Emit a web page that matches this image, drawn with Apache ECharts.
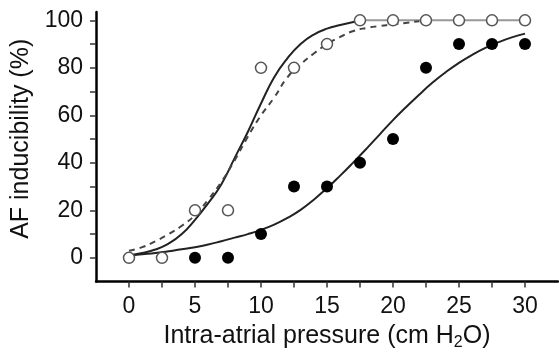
<!DOCTYPE html>
<html>
<head>
<meta charset="utf-8">
<script src="https://cdn.jsdelivr.net/npm/echarts@6/dist/echarts.min.js"></script>
<style>
  html, body { margin: 0; padding: 0; background: #fff; }
  #chart { width: 559px; height: 356px; }
</style>
</head>
<body>
<div id="chart"></div>
<script>
// measured points (open = first group, filled = second group)
const openX = [0, 2.5, 5, 7.5, 10, 12.5, 15, 17.5, 20, 22.5, 25, 27.5, 30];
const openY = [0, 0, 20, 20, 80, 80, 90, 100, 100, 100, 100, 100, 100];
const filledX = [5, 7.5, 10, 12.5, 15, 17.5, 20, 22.5, 25, 27.5, 30];
const filledY = [0, 0, 10, 30, 30, 40, 50, 80, 90, 90, 90];

// fitted curves
const fitOpenX = [0, 1, 2, 3, 4, 5, 6, 7, 8, 9, 10, 11, 12, 13, 14, 15, 16, 17, 17.5];
const fitOpenY = [1, 2, 3.5, 6, 10, 16, 23, 31, 42, 53, 65, 76, 84, 90, 94, 96.5, 98, 99.3, 99.8];
const fitDashX = [0, 1, 2, 3, 4, 5, 6, 7, 8, 9, 10, 11, 12, 13, 14, 15, 16, 17, 18, 19, 20, 22];
const fitDashY = [3, 4.5, 7, 10, 13.5, 18, 24.5, 32, 41, 51, 60, 67.5, 76, 81.5, 86, 90, 93, 95.5, 96.8, 97.6, 98.3, 99.6];
const fitFilledX = [0, 1, 2, 3, 4, 5, 6, 7, 8, 9, 10, 11, 12, 13, 14, 15,
  16, 17, 18, 19, 20, 21, 22, 23, 24, 25, 26, 27, 28, 29, 30];
const fitFilledY = [1, 1.5, 2, 2.8, 3.6, 4.5, 5.6, 7, 8.5, 10, 11.8, 14, 16.8, 20.2, 24.5, 29.3,
  34.6, 40.2, 46, 52, 58, 63.5, 68.8, 73.8, 78.2, 82.1, 85.5, 88.4, 90.8, 92.8, 94.4];

// axis ticks
const xTicks = [0, 2.5, 5, 7.5, 10, 12.5, 15, 17.5, 20, 22.5, 25, 27.5, 30];
const xLabels = [0, 5, 10, 15, 20, 25, 30];
const yTicks = [0, 10, 20, 30, 40, 50, 60, 70, 80, 90, 100];
const yLabels = [0, 20, 40, 60, 80, 100];

const pairs = (xs, ys) => xs.map((x, i) => [x, ys[i]]);
const plateau = pairs(openX, openY).filter(p => p[0] >= 17.5);

const font = 'Liberation Sans, Arial, sans-serif';
const ink = '#111';

const chart = echarts.init(document.getElementById('chart'), null, { renderer: 'canvas' });

chart.setOption({
  animation: false,
  backgroundColor: '#fff',
  grid: { left: 96, right: 1, top: 12, bottom: 73 },
  xAxis: {
    type: 'value',
    min: -2.5,
    max: 32.5,
    name: 'Intra-atrial pressure (cm H{sub|2}O)',
    nameLocation: 'middle',
    nameGap: 39,
    nameTextStyle: {
      fontFamily: font, fontSize: 25, color: ink,
      rich: { sub: { fontFamily: font, fontSize: 16, color: ink, padding: [14, 0, 0, 0] } }
    },
    axisLine: { onZero: false, lineStyle: { color: '#000', width: 2.5 } },
    axisTick: { customValues: xTicks, length: 6, lineStyle: { color: '#333', width: 1.5 } },
    axisLabel: { customValues: xLabels, margin: 14, fontFamily: font, fontSize: 23, color: ink },
    splitLine: { show: false }
  },
  yAxis: {
    type: 'value',
    min: -10,
    max: 103.5,
    name: 'AF inducibility (%)',
    nameLocation: 'middle',
    nameGap: 62,
    nameRotate: 90,
    nameTextStyle: { fontFamily: font, fontSize: 25, color: ink, padding: [0, 0, 0, 16] },
    axisLine: { onZero: false, lineStyle: { color: '#000', width: 2.5 } },
    axisTick: { customValues: yTicks, length: 6, lineStyle: { color: '#333', width: 1.5 } },
    axisLabel: { customValues: yLabels, margin: 13, fontFamily: font, fontSize: 23, color: ink },
    splitLine: { show: false }
  },
  series: [
    {
      name: 'plateau',
      type: 'line',
      data: plateau,
      symbol: 'none',
      lineStyle: { color: '#999', width: 2 },
      z: 1
    },
    {
      name: 'fit open',
      type: 'line',
      data: pairs(fitOpenX, fitOpenY),
      smooth: true,
      symbol: 'none',
      lineStyle: { color: '#222', width: 2 },
      z: 2
    },
    {
      name: 'fit dashed',
      type: 'line',
      data: pairs(fitDashX, fitDashY),
      smooth: true,
      symbol: 'none',
      lineStyle: { color: '#444', width: 2, type: [6, 5] },
      z: 2
    },
    {
      name: 'fit filled',
      type: 'line',
      data: pairs(fitFilledX, fitFilledY),
      smooth: true,
      symbol: 'none',
      lineStyle: { color: '#222', width: 2 },
      z: 2
    },
    {
      name: 'open',
      type: 'scatter',
      data: pairs(openX, openY),
      symbol: 'circle',
      symbolSize: 11,
      itemStyle: { color: '#fff', borderColor: '#555', borderWidth: 1.5, opacity: 1 },
      z: 5
    },
    {
      name: 'filled',
      type: 'scatter',
      data: pairs(filledX, filledY),
      symbol: 'circle',
      symbolSize: 12,
      itemStyle: { color: '#000', opacity: 1 },
      z: 5
    }
  ]
});
</script>
</body>
</html>
